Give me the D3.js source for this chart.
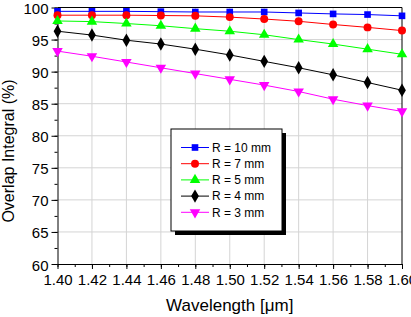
<!DOCTYPE html>
<html><head><meta charset="utf-8">
<script src="https://cdn.jsdelivr.net/npm/d3@7"></script>
<style>
html,body{margin:0;padding:0;background:#fff;}
svg{display:block;font-family:"Liberation Sans",Arial,sans-serif;}
</style></head>
<body>
<svg id="c" width="411" height="317"></svg>
<script>
const wavelengths = [1.40,1.42,1.44,1.46,1.48,1.50,1.52,1.54,1.56,1.58,1.60];
const seriesNames = ["R = 10 mm","R = 7 mm","R = 5 mm","R = 4 mm","R = 3 mm"];
const r10 = [99.4,99.4,99.4,99.35,99.3,99.3,99.3,99.15,99.0,98.9,98.7];
const r7  = [98.8,98.8,98.8,98.75,98.7,98.5,98.2,97.85,97.35,96.9,96.4];
const r5  = [97.9,97.8,97.5,97.15,96.7,96.3,95.75,95.0,94.3,93.5,92.7];
const r4  = [96.3,95.7,94.9,94.3,93.5,92.6,91.6,90.6,89.5,88.3,87.1];
const r3  = [93.2,92.4,91.5,90.6,89.7,88.8,87.9,86.9,85.7,84.7,83.8];
const xTicks = [1.40,1.42,1.44,1.46,1.48,1.50,1.52,1.54,1.56,1.58,1.60];
const yTicks = [60,65,70,75,80,85,90,95,100];
const colors = ["#0000ff","#ff0000","#00ff00","#000000","#ff00ff"];
const symbols = [d3.symbolSquare,d3.symbolCircle,d3.symbolTriangle,d3.symbolDiamond,d3.symbolTriangle];
const symSizes = [44,50,48,52,48];
const rotations = [0,0,0,0,180];
const allSeries = [r10,r7,r5,r4,r3];

const svg = d3.select("#c");
const L=57.5, R=402, T=7.5, B=264;
const x = d3.scaleLinear().domain([1.40,1.60]).range([L,R]);
const y = d3.scaleLinear().domain([60,100]).range([B,T]);

// grid
const g = svg.append("g");
g.selectAll(".gx").data(xTicks.slice(1,-1)).enter().append("line")
  .attr("x1",d=>x(d)).attr("x2",d=>x(d)).attr("y1",T).attr("y2",B)
  .attr("stroke","#d4d4d4").attr("stroke-width",1);
g.selectAll(".gy").data(yTicks.slice(1,-1)).enter().append("line")
  .attr("y1",d=>y(d)).attr("y2",d=>y(d)).attr("x1",L).attr("x2",R)
  .attr("stroke","#d4d4d4").attr("stroke-width",1);

// frame top/right
svg.append("line").attr("x1",L).attr("x2",R).attr("y1",T).attr("y2",T).attr("stroke","#000");
svg.append("line").attr("x1",R).attr("x2",R).attr("y1",T).attr("y2",B).attr("stroke","#000");

// axes
const minorX = d3.range(0,21).map(i=>1.40+i*0.01);
const minorY = d3.range(0,17).map(i=>60+i*2.5);
svg.append("g").attr("transform",`translate(0,${B})`)
  .call(d3.axisBottom(x).tickValues(minorX).tickSize(3).tickFormat(""))
  .call(a=>a.select(".domain").remove());
svg.append("g").attr("transform",`translate(${L},0)`)
  .call(d3.axisLeft(y).tickValues(minorY).tickSize(3).tickFormat(""))
  .call(a=>a.select(".domain").remove());
const xa = svg.append("g").attr("transform",`translate(0,${B})`)
  .call(d3.axisBottom(x).tickValues(xTicks).tickSize(5).tickSizeOuter(0).tickPadding(5).tickFormat(d=>d.toFixed(2)));
xa.selectAll("text").attr("font-size",15).attr("fill","#000").attr("font-family","Liberation Sans, Arial, sans-serif");
const ya = svg.append("g").attr("transform",`translate(${L},0)`)
  .call(d3.axisLeft(y).tickValues(yTicks).tickSize(6).tickSizeOuter(0).tickPadding(3).tickFormat(d3.format("d")));
ya.selectAll("text").attr("font-size",15).attr("fill","#000").attr("font-family","Liberation Sans, Arial, sans-serif").attr("dy","0.4em");
svg.selectAll(".domain").attr("stroke","#000");
svg.selectAll(".tick line").attr("stroke","#000");

// series
const line = d3.line().x((d,i)=>x(wavelengths[i])).y(d=>y(d));
allSeries.forEach((s,k)=>{
  svg.append("path").datum(s).attr("d",line).attr("fill","none")
    .attr("stroke",colors[k]).attr("stroke-width",1);
  svg.selectAll(null).data(s).enter().append("path")
    .attr("d",d3.symbol().type(symbols[k]).size(symSizes[k]))
    .attr("transform",(d,i)=>`translate(${x(wavelengths[i])},${y(d)}) rotate(${rotations[k]})`)
    .attr("fill",colors[k]);
});

// legend
const lx=171, ly=129, lw=111, lh=102;
svg.append("rect").attr("x",lx+4).attr("y",ly+4).attr("width",lw).attr("height",lh).attr("fill","#000");
svg.append("rect").attr("x",lx).attr("y",ly).attr("width",lw).attr("height",lh).attr("fill","#fff").attr("stroke","#000").attr("stroke-width",1);
seriesNames.forEach((n,k)=>{
  const yy = ly+18.5+k*16.2;
  svg.append("line").attr("x1",181).attr("x2",209).attr("y1",yy).attr("y2",yy).attr("stroke",colors[k]).attr("stroke-width",1);
  svg.append("path").attr("d",d3.symbol().type(symbols[k]).size(symSizes[k]))
    .attr("transform",`translate(195,${yy}) rotate(${rotations[k]})`).attr("fill",colors[k]);
  svg.append("text").attr("x",212).attr("y",yy).attr("dy","0.35em").attr("font-size",12).text(n);
});

// axis titles
svg.append("text").attr("x",(L+R)/2).attr("y",311).attr("text-anchor","middle").attr("font-size",17).text("Wavelength [μm]");
svg.append("text").attr("transform","translate(14,151) rotate(-90)").attr("text-anchor","middle").attr("font-size",16).text("Overlap Integral (%)");
</script>
</body></html>
